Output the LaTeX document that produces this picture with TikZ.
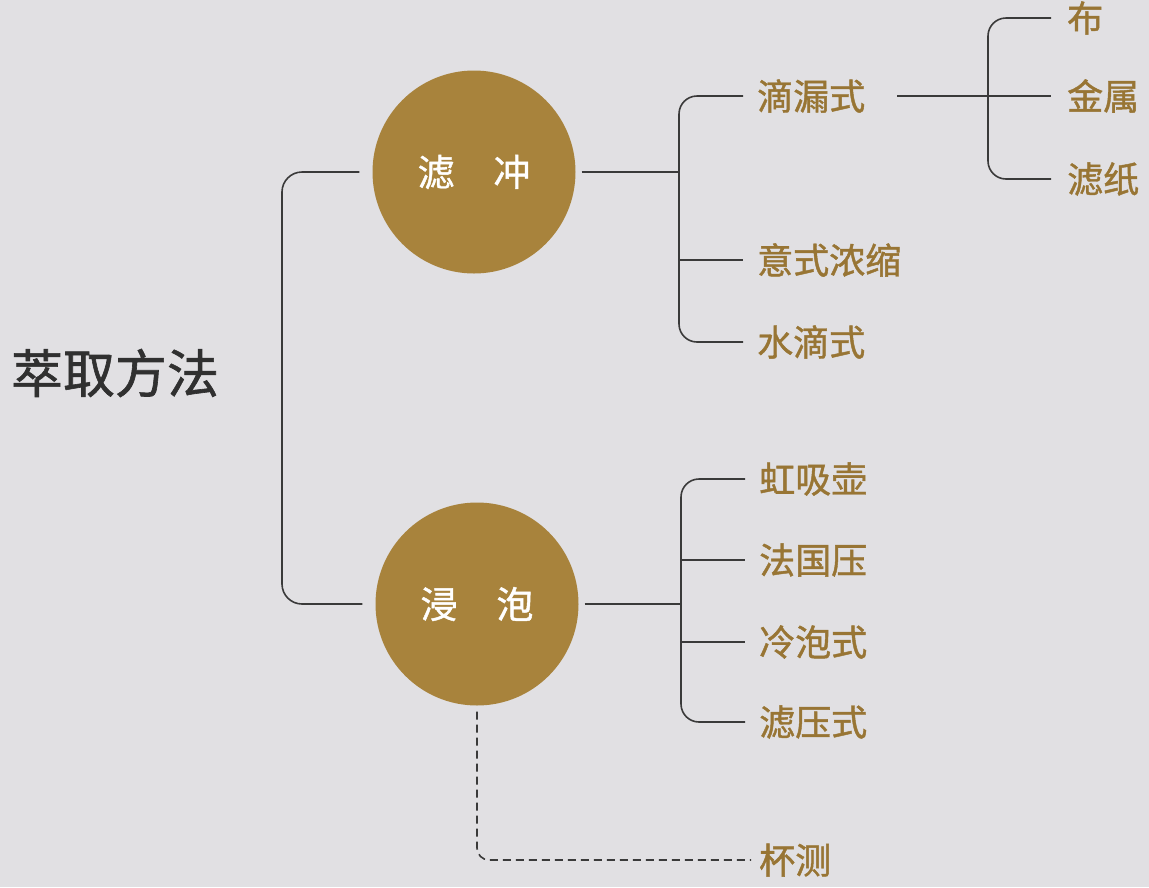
\documentclass[tikz,border=0pt]{standalone}
\usepackage{fontspec}
\newfontfamily\cjk[FakeBold=1.2]{Noto Sans CJK SC}
\definecolor{bg}{RGB}{225,224,227}
\definecolor{gold}{RGB}{168,131,60}
\definecolor{goldtext}{RGB}{152,117,52}
\definecolor{ink}{RGB}{48,48,48}
\definecolor{linec}{RGB}{58,58,58}
\tikzset{
  conn/.style={draw=linec, line width=1.6pt},
  dashconn/.style={draw=linec, line width=1.6pt, dash pattern=on 8pt off 5pt},
  hub/.style={circle, fill=gold, minimum size=203pt, inner sep=0pt, text=white,
    font=\cjk\fontsize{37}{40}\selectfont},
  leaf/.style={anchor=west, inner sep=0pt, text=goldtext, font=\cjk\fontsize{36}{40}\selectfont},
  titlenode/.style={inner sep=0pt, text=ink, font=\cjk\fontsize{52}{56}\selectfont}
}
\begin{document}
\begin{tikzpicture}[x=1pt,y=-1pt]
\fill[bg] (0,0) rectangle (1149,887);
\useasboundingbox (0,0) rectangle (1149,887);

% title and hubs
\node[titlenode] (title) at (115,373) {萃取方法};
\node[hub] (c1) at (474,172) {滤\hspace{1.05em}冲};
\node[hub] (c2) at (477,604) {浸\hspace{1.05em}泡};

% leaves of 滤冲
\node[leaf] (t1) at (757,96) {滴漏式};
\node[leaf] (t2) at (757,260) {意式浓缩};
\node[leaf] (t3) at (757,342) {水滴式};
% leaves of 滴漏式
\node[leaf] (u1) at (1067,18) {布};
\node[leaf] (u2) at (1067,96) {金属};
\node[leaf] (u3) at (1067,179) {滤纸};
% leaves of 浸泡
\node[leaf] (s1) at (759,479) {虹吸壶};
\node[leaf] (s2) at (759,560) {法国压};
\node[leaf] (s3) at (759,642) {冷泡式};
\node[leaf] (s4) at (759,722) {滤压式};
\node[leaf] (cup) at (759,860) {杯测};

% junctions
\coordinate (mj) at (282,390);
\coordinate (j1) at (679,172);
\coordinate (j2) at (681,604);
\coordinate (j3) at (988,96);

% main bracket
\draw[conn, rounded corners=20pt, shorten <=13pt, shorten >=13pt]
  (c1.west) -| (mj) |- (c2.west);

% 滤冲 bracket
\draw[conn, shorten <=6pt] (c1) -- (j1);
\draw[conn, rounded corners=18pt, shorten <=14pt, shorten >=14pt]
  (t1.west) -| (j1) |- (t3.west);
\draw[conn, shorten >=14pt] (j1 |- t2.west) -- (t2.west);

% 滴漏式 bracket
\draw[conn, shorten <=32pt, shorten >=16pt] (t1.east) -- (u2.west);
\draw[conn, rounded corners=18pt, shorten <=16pt, shorten >=16pt]
  (u1.west) -| (j3) |- (u3.west);

% 浸泡 bracket
\draw[conn, shorten <=6pt] (c2) -- (j2);
\draw[conn, rounded corners=18pt, shorten <=14pt, shorten >=14pt]
  (s1.west) -| (j2) |- (s4.west);
\draw[conn, shorten >=14pt] (j2 |- s2.west) -- (s2.west);
\draw[conn, shorten >=14pt] (j2 |- s3.west) -- (s3.west);

% dashed to 杯测
\draw[dashconn, rounded corners=12pt, shorten <=6pt, shorten >=8pt]
  (c2.south) |- (cup.west);
\end{tikzpicture}
\end{document}
